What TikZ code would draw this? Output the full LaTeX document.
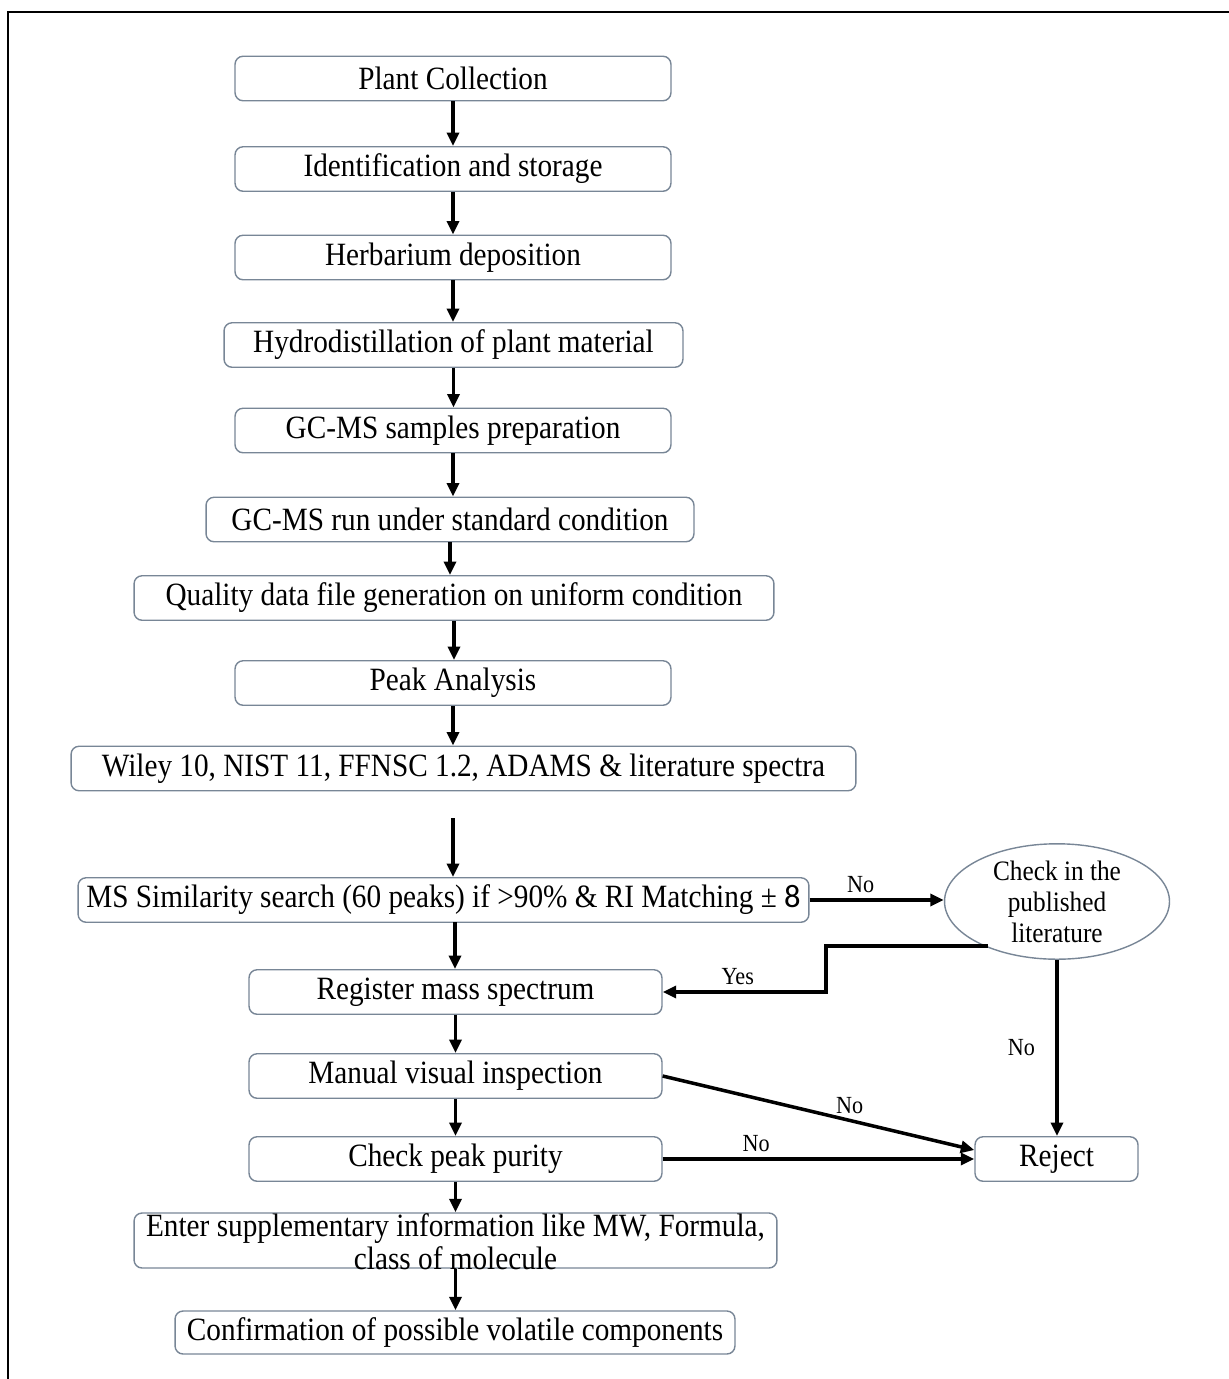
\documentclass[tikz,border=0pt]{standalone}
\usepackage{fontspec}
\setmainfont[FakeStretch=0.9]{Liberation Serif}
\newfontfamily\digitfont{Carlito}
\usetikzlibrary{arrows.meta,shapes.geometric}
\definecolor{boxline}{RGB}{120,134,150}

\begin{document}
\begin{tikzpicture}[x=0.02cm, y=-0.02cm,
  stage/.style={draw=boxline, line width=0.8pt, rounded corners=0.16cm, inner sep=0, minimum height=0.89cm, font=\fontsize{18.5}{20}\selectfont},
  flow/.style={line width=2pt, -{Triangle[length=2.7mm,width=2.4mm]}},
  ans/.style={font=\fontsize{14}{15}\selectfont, inner sep=3pt}]

\useasboundingbox (0,0) rectangle (1229,1379);
\draw[line width=1.3pt] (8,1379) -- (8,12) -- (1229,12);

\node[stage, minimum width=8.72cm] (plant) at (453,78.5) {Plant Collection};
\node[stage, minimum width=8.72cm] (ident) at (453,169) {Identification and storage};
\node[stage, minimum width=8.72cm] (herb) at (453,257.5) {Herbarium deposition};
\node[stage, minimum width=9.18cm] (hydro) at (453.5,345) {Hydrodistillation of plant material};
\node[stage, minimum width=8.72cm] (prep) at (453,430.5) {GC-MS samples preparation};
\node[stage, minimum width=9.76cm] (run) at (450,519.5) {GC-MS run under standard condition};
\node[stage, minimum width=12.8cm] (qual) at (454,598) {Quality data file generation on uniform condition};
\node[stage, minimum width=8.72cm] (peak) at (453,683) {Peak Analysis};
\node[stage, minimum width=15.7cm] (lib) at (463.5,768.5) {Wiley 10, NIST 11, FFNSC 1.2, ADAMS \& literature spectra};
\node[stage, minimum width=14.62cm] (sim) at (443.5,900) {MS Similarity search (60 peaks) if >90\% \& RI Matching ± {\digitfont 8}};
\node[stage, minimum width=8.26cm] (reg) at (455.5,992) {Register mass spectrum};
\node[stage, minimum width=8.26cm] (vis) at (455.5,1076) {Manual visual inspection};
\node[stage, minimum width=8.26cm] (pur) at (455.5,1159) {Check peak purity};
\node[stage, minimum width=12.86cm, minimum height=1.1cm] (enter) at (455.5,1240.5) {};
\node[align=center, inner sep=0, font=\fontsize{18.5}{19}\selectfont] (entertxt) at (455.5,1241.5) {Enter supplementary information like MW, Formula,\\class of molecule};
\node[stage, minimum width=11.2cm, minimum height=0.86cm] (conf) at (455,1332.5) {Confirmation of possible volatile components};

\node[ellipse, draw=boxline, line width=0.8pt, inner sep=0, minimum width=4.5cm, minimum height=1.86cm, align=center, font=\fontsize{16}{17.6}\selectfont] (chk) at (1057,901.5) {Check in the\\published\\literature};
\node[stage, minimum width=3.26cm] (rej) at (1056.5,1159) {Reject};

\draw[flow] (plant.south) -- (plant.south |- ident.north);
\draw[flow] (ident.south) -- (ident.south |- herb.north);
\draw[flow] (herb.south) -- (herb.south |- hydro.north);
\draw[flow] (hydro.south) -- (hydro.south |- prep.north);
\draw[flow] (prep.south) -- (prep.south |- run.north);
\draw[flow] (run.south) -- (run.south |- qual.north);
\draw[flow] (qual.south) -- (qual.south |- peak.north);
\draw[flow] (peak.south) -- (peak.south |- lib.north);
\coordinate (libgap) at (453,818);
\draw[flow] (libgap) -- (libgap |- sim.north);
\draw[flow] (455,922) -- (455,922 |- reg.north);
\draw[flow] (reg.south) -- (reg.south |- vis.north);
\draw[flow] (vis.south) -- (vis.south |- pur.north);
\draw[flow] (pur.south) -- (pur.south |- enter.north);
\draw[flow] (enter.south) -- (enter.south |- conf.north);

\draw[flow] (sim.east) -- node[ans, above, pos=0.38] (nolit) {No} (sim.east -| chk.west);
\coordinate (yesout) at (988,946);
\coordinate (yesbend) at (826,992);
\draw[flow] (yesout) -| (yesbend) -- node[ans, above, pos=0.54] (yeslbl) {Yes} (reg.east);
\draw[flow] (chk.south) -- node[ans, left=0.3cm] (nochk) {No} (chk.south |- rej.north);
\draw[flow] (vis.east) -- node[ans, above, pos=0.6] (novis) {No} ([yshift=0.18cm]rej.west);
\draw[flow] (pur.east) -- node[ans, above, pos=0.3] (nopur) {No} (rej.west);

\end{tikzpicture}
\end{document}
